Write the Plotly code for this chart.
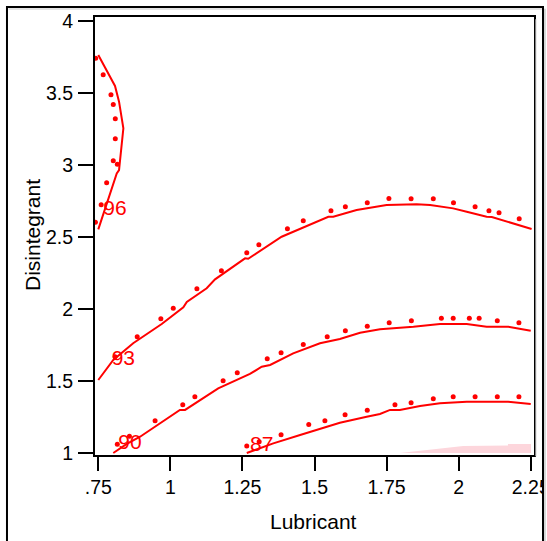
import plotly.graph_objects as go

# ---------------- data ----------------
# contour 96 (solid line and dotted companion)
c96_x = [0.750, 0.808, 0.822, 0.837, 0.822, 0.814, 0.750]
c96_y = [3.764, 3.549, 3.440, 3.255, 2.965, 2.942, 2.553]
d96_x = [0.741, 0.767, 0.794, 0.802, 0.809, 0.809, 0.802, 0.816, 0.779, 0.760, 0.740]
d96_y = [3.741, 3.627, 3.488, 3.421, 3.322, 3.183, 3.030, 3.005, 2.877, 2.724, 2.602]

# contour 93
c93_x = [0.750, 0.802, 0.871, 0.970, 1.045, 1.057, 1.126, 1.155, 1.259, 1.270, 1.386,
         1.415, 1.548, 1.565, 1.646, 1.750, 1.854, 1.901, 1.981, 2.028, 2.097, 2.115, 2.253]
c93_y = [1.507, 1.646, 1.762, 1.896, 2.012, 2.049, 2.144, 2.206, 2.352, 2.349, 2.502,
         2.526, 2.641, 2.641, 2.688, 2.722, 2.727, 2.722, 2.699, 2.676, 2.641, 2.639, 2.556]
d93_x = [0.808, 0.885, 0.967, 1.010, 1.092, 1.177, 1.265, 1.307, 1.406, 1.461, 1.557,
         1.607, 1.683, 1.758, 1.835, 1.912, 1.982, 2.057, 2.105, 2.140, 2.210]
d93_y = [1.669, 1.808, 1.933, 2.005, 2.141, 2.266, 2.391, 2.447, 2.558, 2.613, 2.683,
         2.710, 2.738, 2.767, 2.766, 2.766, 2.738, 2.710, 2.683, 2.669, 2.627]

# contour 90
c90_x = [0.802, 0.849, 0.895, 0.987, 1.033, 1.051, 1.166, 1.276, 1.317, 1.346, 1.426,
         1.519, 1.588, 1.658, 1.727, 1.843, 1.935, 2.028, 2.097, 2.172, 2.250]
c90_y = [1.000, 1.063, 1.113, 1.234, 1.299, 1.299, 1.449, 1.549, 1.599, 1.611, 1.692,
         1.762, 1.792, 1.835, 1.859, 1.877, 1.896, 1.896, 1.877, 1.877, 1.849]
d90_x = [0.816, 0.858, 0.947, 1.043, 1.085, 1.183, 1.232, 1.336, 1.384, 1.461, 1.544,
         1.607, 1.683, 1.759, 1.836, 1.940, 1.981, 2.037, 2.071, 2.134, 2.209]
d90_y = [1.060, 1.116, 1.224, 1.335, 1.391, 1.502, 1.558, 1.655, 1.697, 1.753, 1.808,
         1.849, 1.880, 1.905, 1.919, 1.935, 1.935, 1.935, 1.935, 1.919, 1.905]

# contour 87
c87_x = [1.265, 1.357, 1.450, 1.508, 1.588, 1.681, 1.727, 1.762, 1.796, 1.866, 1.935,
         2.028, 2.097, 2.172, 2.250]
c87_y = [1.000, 1.067, 1.125, 1.160, 1.210, 1.252, 1.271, 1.299, 1.299, 1.326, 1.345,
         1.356, 1.356, 1.356, 1.340]
d87_x = [1.265, 1.308, 1.384, 1.480, 1.536, 1.606, 1.683, 1.779, 1.835, 1.912, 1.981,
         2.057, 2.134, 2.209]
d87_y = [1.049, 1.078, 1.127, 1.197, 1.224, 1.266, 1.297, 1.335, 1.349, 1.377, 1.391,
         1.391, 1.391, 1.391]

# shaded region near the lower right corner
shade_x = [1.796, 2.016, 2.171, 2.171, 2.251, 2.251, 1.796]
shade_y = [1.000, 1.049, 1.052, 1.0625, 1.0625, 1.000, 1.000]

# contour labels
label_text = ["96", "93", "90", "87"]
label_x = [0.808, 0.837, 0.860, 1.317]
label_y = [2.688, 1.646, 1.063, 1.049]

x_tickvals = [0.75, 1.0, 1.25, 1.5, 1.75, 2.0, 2.25]
x_ticktext = [".75", "1", "1.25", "1.5", "1.75", "2", "2.25"]
y_tickvals = [1, 1.5, 2, 2.5, 3, 3.5, 4]
y_ticktext = ["1", "1.5", "2", "2.5", "3", "3.5", "4"]

# ---------------- figure ----------------
FONT = "Liberation Sans, Arial, Helvetica, sans-serif"
RED = "#ff0000"

fig = go.Figure()

fig.add_trace(go.Scatter(x=shade_x, y=shade_y, mode="lines", fill="toself",
                         fillcolor="#fdd6dc", line=dict(width=0, color="#fdd6dc"),
                         hoverinfo="skip", showlegend=False))

for cx, cy, dx, dy in [(c96_x, c96_y, d96_x, d96_y), (c93_x, c93_y, d93_x, d93_y),
                       (c90_x, c90_y, d90_x, d90_y), (c87_x, c87_y, d87_x, d87_y)]:
    fig.add_trace(go.Scatter(x=cx, y=cy, mode="lines", line=dict(color=RED, width=2),
                             showlegend=False))
    fig.add_trace(go.Scatter(x=dx, y=dy, mode="markers",
                             marker=dict(color=RED, size=5, line=dict(width=0)),
                             showlegend=False))

fig.add_trace(go.Scatter(x=label_x, y=label_y, mode="text", text=label_text,
                         textposition="middle center",
                         textfont=dict(family=FONT, size=21, color=RED),
                         showlegend=False))

axis_common = dict(showgrid=False, zeroline=False, showline=True, linecolor="black",
                   linewidth=2, mirror=True, ticks="outside", tickcolor="black",
                   tickwidth=2, ticklabeloverflow="allow",
                   tickfont=dict(family=FONT, size=19.5, color="black"))

fig.update_xaxes(range=[0.7386, 2.2613], tickvals=x_tickvals, ticktext=x_ticktext,
                 ticklen=14, ticklabelstandoff=0, **axis_common)
fig.update_yaxes(range=[0.986, 4.028], tickvals=y_tickvals, ticktext=y_ticktext,
                 ticklen=15, ticklabelstandoff=1, **axis_common)

fig.update_layout(
    width=547, height=541,
    margin=dict(l=95, r=13, t=17, b=86, autoexpand=False),
    paper_bgcolor="white", plot_bgcolor="white",
    font=dict(family=FONT, color="black"),
    annotations=[
        dict(text="Lubricant", xref="paper", yref="paper", x=0.4966, y=-0.1507,
             xanchor="center", yanchor="middle", showarrow=False,
             font=dict(family=FONT, size=21, color="black")),
        dict(text="Disintegrant", xref="paper", yref="paper", x=-0.1412, y=0.5023,
             xanchor="center", yanchor="middle", showarrow=False, textangle=-90,
             font=dict(family=FONT, size=21, color="black")),
    ],
    shapes=[
        # faint shadow along the right side of the plot frame
        dict(type="line", xref="paper", yref="paper", x0=1.0040, x1=1.0040,
             y0=-0.003, y1=0.995, line=dict(color="#b0b0b0", width=1), layer="above"),
        # clip region to the right of the outer frame
        dict(type="rect", xref="paper", yref="paper", x0=1.0228, x1=1.2, y0=-0.3, y1=1.1,
             fillcolor="white", line=dict(width=0), layer="above"),
        # outer frame
        dict(type="rect", xref="paper", yref="paper", x0=-0.2005, x1=1.0205,
             y0=-0.25, y1=1.0228, line=dict(color="black", width=2),
             fillcolor="rgba(0,0,0,0)", layer="above"),
        # faint shadow of the outer frame
        dict(type="line", xref="paper", yref="paper", x0=1.0250, x1=1.0250,
             y0=-0.3, y1=1.019, line=dict(color="#b0b0b0", width=1), layer="above"),
        dict(type="line", xref="paper", yref="paper", x0=-0.197, x1=1.018,
             y0=1.0183, y1=1.0183, line=dict(color="#c8c8c8", width=1), layer="above"),
    ],
)

fig.write_html("out.html", config={"displayModeBar": False},
               post_script="document.body.style.margin='0';document.body.style.overflow='hidden';")
